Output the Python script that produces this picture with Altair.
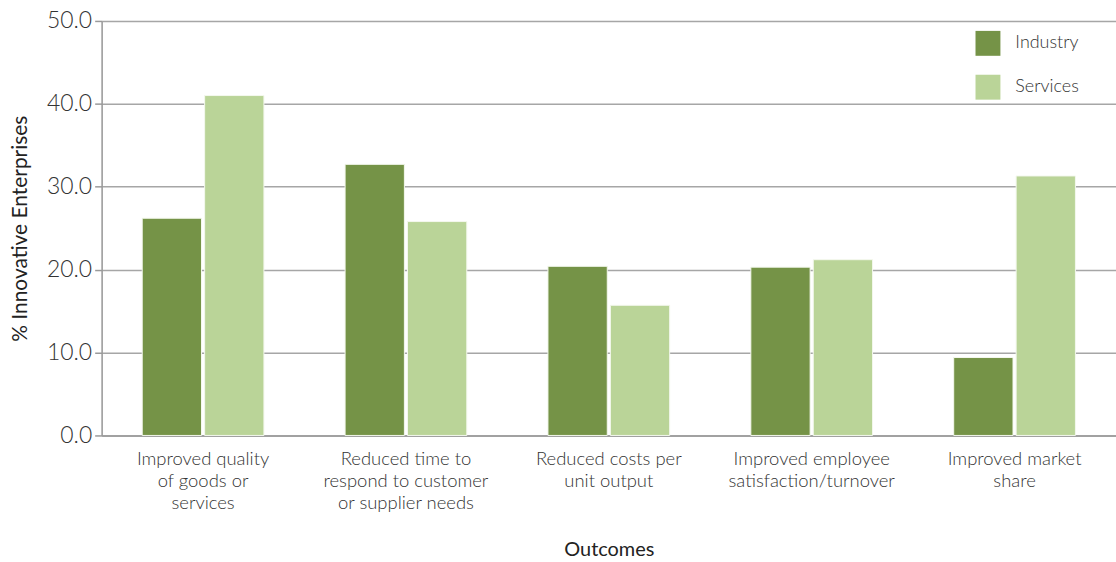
import altair as alt
import pandas as pd

categories = [
    "Improved quality|of goods or|services",
    "Reduced time to|respond to customer|or supplier needs",
    "Reduced costs per|unit output",
    "Improved employee|satisfaction/turnover",
    "Improved market|share",
]
industry = [26.2, 32.7, 20.4, 20.3, 9.4]
services = [41.0, 25.8, 15.7, 21.2, 31.3]
series = ["Industry", "Services"]
colors = ["#759347", "#bad498"]

rows = []
for c, i, s in zip(categories, industry, services):
    rows.append({"Outcome": c, "Sector": "Industry", "Value": i})
    rows.append({"Outcome": c, "Sector": "Services", "Value": s})
df = pd.DataFrame(rows)

FONT = "Lato"

chart = alt.Chart(df).mark_bar(stroke="#f4f8ee", strokeWidth=1).encode(
    x=alt.X("Outcome:N", sort=categories,
            scale=alt.Scale(paddingInner=0.4, paddingOuter=0.2),
            axis=alt.Axis(title="Outcomes", labelAngle=0,
                          labelExpr="split(datum.label, '|')",
                          labelFontSize=18.5, labelLineHeight=22,
                          labelPadding=14, labelColor="#333333",
                          labelFont=FONT, labelFontWeight=300,
                          titleFont=FONT, titleFontSize=20, titleFontWeight=400,
                          titleColor="#222222", titlePadding=28,
                          ticks=False, domainColor="#9a9a9a", domainWidth=1.5)),
    xOffset=alt.XOffset("Sector:N", scale=alt.Scale(paddingInner=0.05)),
    y=alt.Y("Value:Q", scale=alt.Scale(domain=[0, 50]),
            axis=alt.Axis(title="% Innovative Enterprises", format=".1f",
                          values=[0, 10, 20, 30, 40, 50],
                          labelFontSize=23, labelColor="#333333",
                          labelFont=FONT, labelFontWeight=300, labelPadding=3,
                          titleFont=FONT, titleFontSize=21, titleFontWeight=400,
                          titleColor="#222222", titlePadding=16,
                          tickSize=7, tickColor="#9a9a9a", tickWidth=1.5,
                          domainColor="#9a9a9a", domainWidth=1.5,
                          gridColor="#a6a6a6", gridWidth=1.5)),
    color=alt.Color("Sector:N", scale=alt.Scale(domain=series, range=colors),
                    legend=alt.Legend(title=None, orient="none", legendX=877, legendY=10,
                                      symbolType="square", symbolSize=625,
                                      symbolStrokeWidth=0, symbolOpacity=1,
                                      labelFont=FONT, labelFontWeight=300,
                                      labelFontSize=18, labelColor="#333333",
                                      labelOffset=15, rowPadding=19, padding=0)),
).properties(
    width=1018, height=416,
    autosize=alt.AutoSizeParams(type="none"),
    padding={"left": 102, "top": 20, "right": 0, "bottom": 126},
).configure_view(stroke=None).configure(background="white")

chart.save("out.html", embed_options={"renderer": "svg", "actions": False})
